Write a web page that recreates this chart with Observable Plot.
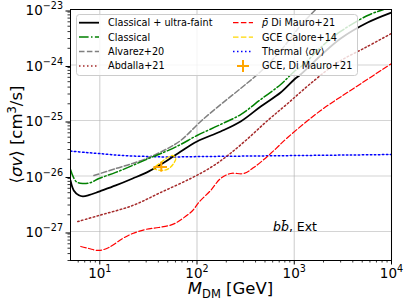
<!DOCTYPE html>
<html><head><meta charset="utf-8">
<script src="https://cdn.jsdelivr.net/npm/d3@7"></script>
<script src="https://cdn.jsdelivr.net/npm/@observablehq/plot@0.6"></script>
<style>body{margin:0;background:#fff} svg{display:block}</style>
</head><body><div id="chart"></div>
<script>
// ---- data ----
const massCUF = [5,5.4,6.1,6.7,7.7,10,14.6,21.8,31.9,47.6,68,100,175,281,452,725,1000,1163,1868,3000,5680,10000];
const svCUF   = [8.3e-27,5.5e-27,4.5e-27,4.3e-27,4.5e-27,5.3e-27,6.75e-27,9.0e-27,1.21e-26,1.82e-26,2.76e-26,4.19e-26,6.34e-26,9.6e-26,1.79e-25,3.2e-25,5.48e-25,6.75e-25,1.48e-24,3.0e-24,5.83e-24,8.83e-24];

const massCl = [5,5.7,6.7,8.1,9.8,14.6,21.8,31.9,47.6,68,100,175,281,452,725,1000,1250,1868,3000,5680,8300];
const svCl   = [1.31e-26,7.96e-27,7.33e-27,7.64e-27,9.0e-27,1.16e-26,1.55e-26,2.07e-26,2.76e-26,3.7e-26,5.37e-26,8.47e-26,1.28e-25,2.39e-25,4.46e-25,7.64e-25,1.02e-24,2.07e-24,4.02e-24,7.8e-24,1e-23];

const massAlv = [8.7,14.6,21.8,31.9,47.6,68,109,175,281,452,725,1163,1660];
const svAlv   = [1.02e-26,1.36e-26,1.68e-26,2.15e-26,3.0e-26,4.37e-26,9.59e-26,1.94e-25,3.78e-25,7.64e-25,1.82e-24,5.15e-24,1e-23];

const massAbd = [5.94,9.77,21.8,42.4,86.1,138,207,317,533,855,1476,2793,5417,10000];
const svAbd   = [1.51e-27,1.94e-27,2.94e-27,5.05e-27,9.02e-27,1.42e-26,2.34e-26,4.37e-26,1e-25,2.02e-25,4.65e-25,1.11e-24,2.07e-24,3.7e-24];

const massPbar = [6.38,7.71,9.77,12.4,17.2,21.8,29.7,40.4,56.2,71.2,90.3,104,138,175,222,302,383,572,855,1868,4077,10000];
const svPbar   = [5.37e-28,4.94e-28,4.55e-28,5.15e-28,7.48e-28,9.2e-28,1.09e-27,1.18e-27,1.34e-27,1.71e-27,2.39e-27,3.33e-27,5.48e-27,9.02e-27,1.11e-26,1.11e-26,1.42e-26,2.54e-26,4.94e-26,1.51e-25,3.78e-25,1.06e-24];

const massTh = [5,7.2,9.8,14.6,21.8,33.4,47.6,109,357,1163,3800,10000];
const svTh   = [2.82e-26,2.65e-26,2.54e-26,2.39e-26,2.29e-26,2.24e-26,2.2e-26,2.24e-26,2.29e-26,2.34e-26,2.39e-26,2.44e-26];

const massCalore = [35.9,42.4,50.0,56.2,60.4,57.5,51.2,44.4,37.6];
const svCalore   = [1.36e-26,1.75e-26,2.15e-26,2.34e-26,2.07e-26,1.68e-26,1.36e-26,1.26e-26,1.31e-26];

const gceMass = [42.9], gceMassLo = [36.1], gceMassHi = [49.7];
const gceSv = [1.45e-26], gceSvLo = [1.17e-26], gceSvHi = [1.77e-26];

const xMajor = [10,100,1000,10000];
const xMinor = [6,7,8,9,20,30,40,50,60,70,80,90,200,300,400,500,600,700,800,900,2000,3000,4000,5000,6000,7000,8000,9000];
const yMajor = [1e-27,1e-26,1e-25,1e-24,1e-23];
const yMinor = [3e-28,4e-28,5e-28,6e-28,7e-28,8e-28,9e-28,
  2e-27,3e-27,4e-27,5e-27,6e-27,7e-27,8e-27,9e-27,
  2e-26,3e-26,4e-26,5e-26,6e-26,7e-26,8e-26,9e-26,
  2e-25,3e-25,4e-25,5e-25,6e-25,7e-25,8e-25,9e-25,
  2e-24,3e-24,4e-24,5e-24,6e-24,7e-24,8e-24,9e-24];

const legendLeft = ["Classical + ultra-faint","Classical","Alvarez+20","Abdalla+21"];
const legendRight = ["Di Mauro+21","GCE Calore+14","Thermal","GCE, Di Mauro+21"];

// ---- styles ----
const DASH = "5.5,2.4", DOT = "1.5,2.5", DASHDOT = "9.6,2.4,1.5,2.4";
const series = [
  {x: massTh, y: svTh, stroke: "#0000ff", dash: DOT, w: 1.5},
  {x: massAbd, y: svAbd, stroke: "#a52a2a", dash: DOT, w: 1.5},
  {x: massPbar, y: svPbar, stroke: "#ff0000", dash: DASH, w: 1.2},
  {x: massAlv, y: svAlv, stroke: "#808080", dash: DASH, w: 1.5},
  {x: massCl, y: svCl, stroke: "#008000", dash: DASHDOT, w: 1.5},
  {x: massCUF, y: svCUF, stroke: "#000000", dash: null, w: 1.8},
];
const exp = d => "10|" + Math.round(Math.log10(d));

const chart = Plot.plot({
  width: 407, height: 305,
  marginLeft: 70, marginRight: 16, marginTop: 9, marginBottom: 45,
  x: {type: "log", domain: [5, 1e4]},
  y: {type: "log", domain: [3e-28, 1e-23]},
  style: {fontFamily: "DejaVu Sans", fontSize: "13.5px", color: "black", background: "white", overflow: "visible"},
  marks: [
    Plot.gridX(xMajor, {stroke: "#b0b0b0", strokeOpacity: 0.55, strokeWidth: 1.2}),
    Plot.gridY(yMajor, {stroke: "#b0b0b0", strokeOpacity: 0.55, strokeWidth: 1.2}),
    ...series.map(s => Plot.line(s.x, {x: s.x, y: s.y, stroke: s.stroke, strokeWidth: s.w,
        strokeDasharray: s.dash, curve: "catmull-rom", clip: true})),
    Plot.line(massCalore, {x: massCalore, y: svCalore, stroke: "#ffd700", strokeWidth: 1.3,
        strokeDasharray: "4,2.2", curve: "catmull-rom-closed"}),
    Plot.ruleY(gceSv, {y: gceSv, x1: gceMassLo, x2: gceMassHi, stroke: "#ffa500", strokeWidth: 2}),
    Plot.ruleX(gceMass, {x: gceMass, y1: gceSvLo, y2: gceSvHi, stroke: "#ffa500", strokeWidth: 2}),
    Plot.axisX(xMinor, {tickSize: 2.5, tickFormat: () => "", label: null, strokeWidth: 0.8}),
    Plot.axisY(yMinor, {tickSize: 2.5, tickFormat: () => "", label: null, strokeWidth: 0.8}),
    Plot.axisX(xMajor, {tickSize: 4.5, tickPadding: 3, tickFormat: exp, label: null, fontSize: 13.5}),
    Plot.axisY(yMajor, {tickSize: 4.5, tickPadding: 3, tickFormat: exp, label: null, fontSize: 13.5, dy: 1.5}),
    Plot.frame({stroke: "black", strokeWidth: 1})
  ]
});
document.getElementById("chart").append(chart);

const svg = d3.select(chart);
// superscript tick labels
svg.selectAll("text").each(function () {
  const t = d3.select(this);
  const s = t.text();
  if (!/^10\|/.test(s)) return;
  const [b, e] = s.split("|");
  t.text(null);
  t.append("tspan").text(b);
  t.append("tspan").attr("font-size", 9.6).attr("dy", -6).text(e.replace("-", "\u2212"));
});

// axis labels
const ylab = svg.append("text").attr("transform", "translate(22,134.5) rotate(-90)")
  .attr("text-anchor", "middle").attr("font-size", 16.5).attr("fill", "black");
ylab.append("tspan").text("\u27e8");
ylab.append("tspan").attr("font-style", "italic").text("\u03c3v");
ylab.append("tspan").text("\u27e9 [cm");
ylab.append("tspan").attr("font-size", 11.5).attr("dy", -6.5).text("3");
ylab.append("tspan").attr("dy", 6.5).text("/s]");

const xlab = svg.append("text").attr("x", 230.5).attr("y", 294)
  .attr("text-anchor", "middle").attr("font-size", 16.5).attr("fill", "black");
xlab.append("tspan").attr("font-style", "italic").text("M");
xlab.append("tspan").attr("font-size", 11.5).attr("dy", 4).text("DM");
xlab.append("tspan").attr("dy", -4).text(" [GeV]");

// annotation
const ann = svg.append("text").attr("x", 273).attr("y", 231).attr("font-size", 12.5)
  .attr("text-anchor", "start").attr("fill", "black");
ann.append("tspan").attr("font-style", "italic").text("b");
ann.append("tspan").attr("font-style", "italic").text("b\u0304");
ann.append("tspan").text(", Ext");

// legend
const lg = svg.append("g").attr("font-size", 9.7).attr("fill", "black").attr("text-anchor", "start");
lg.append("rect").attr("x", 76.5).attr("y", 14.5).attr("width", 281).attr("height", 61).attr("rx", 3)
  .attr("fill", "white").attr("fill-opacity", 0.8).attr("stroke", "#cccccc").attr("stroke-width", 1);
const rows = [22.7, 37.1, 51.6, 66];
const leftStyles = [series[5], series[4], series[3], series[1]];
leftStyles.forEach((s, i) => {
  lg.append("line").attr("x1", 79).attr("x2", 99).attr("y1", rows[i]).attr("y2", rows[i])
    .attr("stroke", s.stroke).attr("stroke-width", s.w).attr("stroke-dasharray", s.dash);
  lg.append("text").attr("x", 108).attr("y", rows[i]).attr("dy", "0.36em").text(legendLeft[i]);
});
const rightStyles = [{stroke: "#ff0000", dash: DASH, w: 1.2}, {stroke: "#ffd700", dash: DASH, w: 1.3}, series[0]];
rightStyles.forEach((s, i) => {
  lg.append("line").attr("x1", 233).attr("x2", 253).attr("y1", rows[i]).attr("y2", rows[i])
    .attr("stroke", s.stroke).attr("stroke-width", s.w).attr("stroke-dasharray", s.dash);
});
const t0 = lg.append("text").attr("x", 262).attr("y", rows[0]).attr("dy", "0.36em");
t0.append("tspan").attr("font-style", "italic").text("p\u0304");
t0.append("tspan").text(" " + legendRight[0]);
lg.append("text").attr("x", 262).attr("y", rows[1]).attr("dy", "0.36em").text(legendRight[1]);
const t2 = lg.append("text").attr("x", 262).attr("y", rows[2]).attr("dy", "0.36em");
t2.append("tspan").text(legendRight[2] + " \u27e8");
t2.append("tspan").attr("font-style", "italic").text("\u03c3v");
t2.append("tspan").text("\u27e9");
lg.append("line").attr("x1", 237).attr("x2", 249).attr("y1", rows[3]).attr("y2", rows[3]).attr("stroke", "#ffa500").attr("stroke-width", 2);
lg.append("line").attr("x1", 243).attr("x2", 243).attr("y1", rows[3] - 6).attr("y2", rows[3] + 6).attr("stroke", "#ffa500").attr("stroke-width", 2);
lg.append("text").attr("x", 262).attr("y", rows[3]).attr("dy", "0.36em").text(legendRight[3]);
</script></body></html>
